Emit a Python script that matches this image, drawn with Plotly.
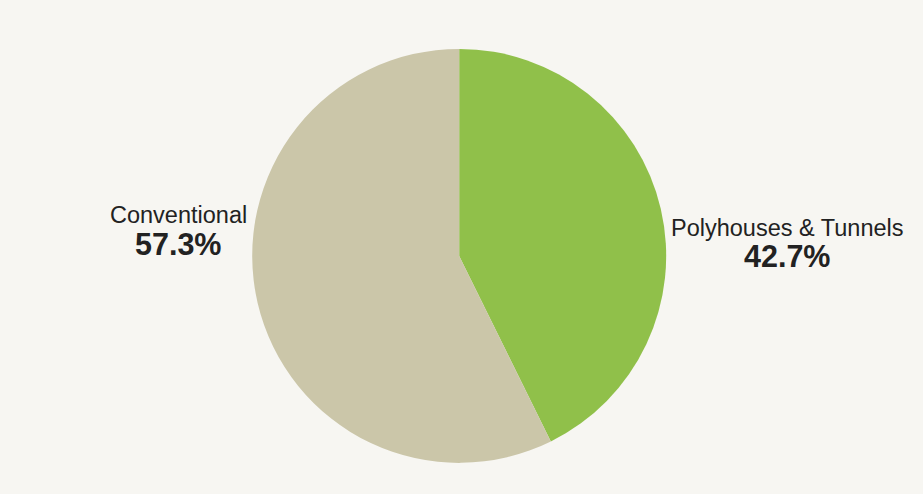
import plotly.graph_objects as go

# share of area by growing method
methods = ["Polyhouses & Tunnels", "Conventional"]
shares = [42.7, 57.3]
colors = ["#90c04a", "#cbc6a9"]

# label placement (paper coords): name line, then percentage line
label_x = [0.853, 0.193]
name_y = [0.538, 0.565]
pct_y = [0.481, 0.506]

fig = go.Figure(go.Pie(
    labels=methods,
    values=shares,
    sort=False,
    direction="clockwise",
    rotation=0,
    marker=dict(colors=colors, line=dict(width=0)),
    textinfo="none",
    showlegend=False,
    hoverinfo="label+percent",
    domain=dict(x=[0.273, 0.722], y=[0.063, 0.901]),
))

font = "Liberation Sans, Arial, Helvetica, sans-serif"
for name, val, x, y1, y2 in zip(methods, shares, label_x, name_y, pct_y):
    fig.add_annotation(x=x, y=y1, xref="paper", yref="paper", text=name,
                       showarrow=False, xanchor="center", yanchor="middle",
                       font=dict(family=font, size=23.5, color="#222222"))
    fig.add_annotation(x=x, y=y2, xref="paper", yref="paper", text=f"<b>{val:.1f}%</b>",
                       showarrow=False, xanchor="center", yanchor="middle",
                       font=dict(family=font, size=30.5, color="#222222"))

fig.update_layout(
    width=923,
    height=494,
    paper_bgcolor="#f7f6f2",
    plot_bgcolor="#f7f6f2",
    margin=dict(t=0, b=0, l=0, r=0),
)

fig.write_html("out.html", config={"displayModeBar": False},
               post_script="document.body.style.margin='0';")
